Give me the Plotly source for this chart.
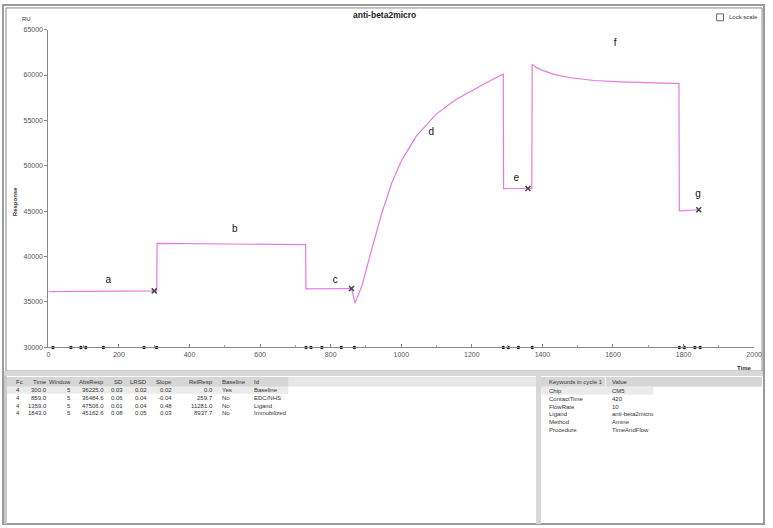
import plotly.graph_objects as go

W, H = 773, 528

# sensorgram trace (time in s, response in RU)
time = [0, 150, 300, 307, 308, 500, 729, 730, 800, 859, 869,
        889, 917, 945, 973, 1001, 1043, 1099, 1155, 1211, 1253, 1289,
        1290, 1359, 1370, 1371, 1380, 1395, 1415, 1435, 1480, 1547,
        1620, 1687, 1787, 1788, 1843]
resp = [36150, 36190, 36225, 36230, 41450, 41400, 41320, 36450, 36470, 36485, 34890,
        36850, 40900, 44800, 48100, 50600, 53300, 55700, 57300, 58550, 59400, 60100,
        47500, 47506, 47520, 61200, 60900, 60600, 60300, 60050, 59700, 59400,
        59250, 59150, 59050, 45050, 45163]

# report points (table values)
rp_time = [300.0, 859.0, 1359.0, 1843.0]
rp_resp = [36225.0, 36484.6, 47506.0, 45162.6]

# injection / event markers along the time axis
evt_time = [13, 64, 92, 106, 156, 271, 307, 730, 744, 775, 830, 867,
            1289, 1303, 1332, 1371, 1788, 1802, 1832, 1847]

# phase labels
lab_text = ["a", "b", "c", "d", "e", "f", "g"]
lab_time = [170, 528, 813, 1085, 1326, 1606, 1841]
lab_resp = [37390, 42930, 37390, 53700, 48590, 63480, 46850]

# report point table
tab_cols = ["Fc", "Time", "Window", "AbsResp", "SD", "LRSD", "Slope", "RelResp", "Baseline", "Id"]
tab_fc = ["4", "4", "4", "4"]
tab_time = ["300.0", "859.0", "1359.0", "1843.0"]
tab_window = ["5", "5", "5", "5"]
tab_abs = ["36225.0", "36484.6", "47506.0", "45162.6"]
tab_sd = ["0.03", "0.06", "0.01", "0.08"]
tab_lrsd = ["0.02", "0.04", "0.04", "0.05"]
tab_slope = ["0.02", "-0.04", "0.48", "0.03"]
tab_rel = ["0.0", "259.7", "11281.0", "8937.7"]
tab_base = ["Yes", "No", "No", "No"]
tab_id = ["Baseline", "EDC/NHS", "Ligand", "Immobilized"]

# keywords table
kw_cols = ["Keywords in cycle 1", "Value"]
kw_names = ["Chip", "ContactTime", "FlowRate", "Ligand", "Method", "Procedure"]
kw_values = ["CM5", "420", "10", "anti-beta2micro", "Amine", "TimeAndFlow"]

FONT = "Liberation Sans, Arial, sans-serif"
LINE = "#e47ae4"
TXT = "#333"


def px_x(p):
    return p / W


def px_y(p):
    return 1 - p / H


def label(text, x, y, size=6, anchor="left", color=TXT, angle=0):
    return dict(text=text, x=px_x(x), y=px_y(y), xref="paper", yref="paper",
                xanchor=anchor, yanchor="middle", showarrow=False, textangle=angle,
                font=dict(size=size, color=color))


def box(x0, y0, x1, y1, fill=None, line=None, width=0):
    return dict(type="rect", xref="paper", yref="paper", layer="below",
                x0=px_x(x0), x1=px_x(x1), y0=px_y(y1), y1=px_y(y0),
                fillcolor=fill or "rgba(0,0,0,0)",
                line=dict(color=line or "rgba(0,0,0,0)", width=width))


fig = go.Figure()

fig.add_trace(go.Scatter(x=time, y=resp, mode="lines",
                         line=dict(color=LINE, width=1.2), hoverinfo="skip"))
fig.add_trace(go.Scatter(x=rp_time, y=rp_resp, mode="markers",
                         marker=dict(symbol="x-thin", size=5, line=dict(width=1.5, color="#444"))))
fig.add_trace(go.Scatter(x=evt_time, y=[30000] * len(evt_time), mode="markers",
                         marker=dict(symbol="circle", size=3.5, color="#111"), cliponaxis=False))
fig.add_trace(go.Scatter(x=lab_time, y=lab_resp, mode="text", text=lab_text,
                         textfont=dict(family=FONT, size=10, color="#111")))

annotations = [
    label("<b>anti-beta2micro</b>", 388, 11, size=8.5, anchor="center", color="#222"),
    label("RU", 18, 15),
    label("<b>Time</b>", 762, 369, anchor="right"),
    label("<b>Response</b>", 14, 200, anchor="center", angle=-90),
    label("Lock scale", 768, 13, anchor="right"),
]

# report point table as text
col_x = [12, 48, 72, 105, 125, 149, 174, 216, 221, 253]
col_al = ["left", "right", "right", "right", "right", "right", "right", "right", "left", "left"]
columns = [tab_fc, tab_time, tab_window, tab_abs, tab_sd, tab_lrsd, tab_slope, tab_rel, tab_base, tab_id]
for name, cx, al, vals in zip(tab_cols, col_x, col_al, columns):
    annotations.append(label(name, cx, 383, anchor=al))
    for i, v in enumerate(vals):
        annotations.append(label(v, cx, 391 + 8 * i, anchor=al))

annotations.append(label(kw_cols[0], 552, 383))
annotations.append(label(kw_cols[1], 616, 383))
for i, (k, v) in enumerate(zip(kw_names, kw_values)):
    annotations.append(label(k, 552, 392 + 8 * i))
    annotations.append(label(v, 616, 392 + 8 * i))

shapes = [
    # window frame and panels
    box(1, 1, 772, 527, line="#9a9a9a", width=2),
    box(4, 4, 770, 372, line="#8a8a8a", width=1),
    box(2, 372, 771, 377, fill="#d8d8d8"),
    box(541, 377, 546, 527, fill="#d8d8d8"),
    box(2, 377, 5, 527, fill="#c8c8c8"),
    # table headers and selected rows
    box(5, 378, 541, 388, fill="#e8e8e8"),
    box(5, 378, 290, 388, fill="#d6d6d6"),
    box(5, 388, 290, 395, fill="#ebebeb"),
    box(546, 378, 770, 388, fill="#d6d6d6"),
    box(611, 378, 612, 388, fill="#f4f4f4"),
    box(546, 388, 660, 396, fill="#ebebeb"),
    # "Lock scale" checkbox
    box(724, 10, 731, 17, line="#666", width=1),
]

fig.update_layout(
    width=W, height=H, margin=dict(l=0, r=0, t=0, b=0),
    paper_bgcolor="white", plot_bgcolor="white", showlegend=False,
    font=dict(family=FONT, size=7, color="#555"),
    xaxis=dict(domain=[px_x(47), px_x(762)], range=[0, 2000], dtick=200,
               showgrid=False, zeroline=False, showline=True, linecolor="#888", linewidth=1,
               ticks="inside", ticklen=3, tickcolor="#888",
               minor=dict(dtick=100, ticks="inside", ticklen=2, tickcolor="#aaa"),
               tickfont=dict(size=7, color="#555")),
    yaxis=dict(domain=[px_y(348), px_y(26)], range=[30000, 65000], dtick=5000, tickformat="d",
               showgrid=False, zeroline=False, showline=True, linecolor="#888", linewidth=1,
               ticks="outside", ticklen=3, tickcolor="#888",
               tickfont=dict(size=7, color="#555")),
    annotations=annotations,
    shapes=shapes,
)

fig.write_html("out.html", config={"displayModeBar": False, "responsive": False},
               post_script="document.body.style.margin='0';document.body.style.overflow='hidden';")
